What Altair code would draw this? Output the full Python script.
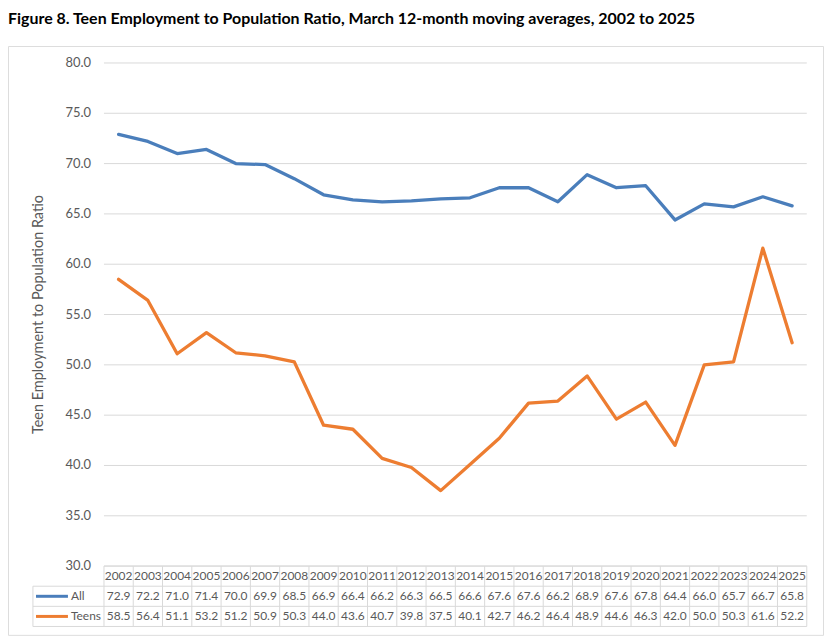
import altair as alt
import pandas as pd

# ---- data ----
years = list(range(2002, 2026))
all_vals = [72.9, 72.2, 71.0, 71.4, 70.0, 69.9, 68.5, 66.9, 66.4, 66.2, 66.3, 66.5,
            66.6, 67.6, 67.6, 66.2, 68.9, 67.6, 67.8, 64.4, 66.0, 65.7, 66.7, 65.8]
teen_vals = [58.5, 56.4, 51.1, 53.2, 51.2, 50.9, 50.3, 44.0, 43.6, 40.7, 39.8, 37.5,
             40.1, 42.7, 46.2, 46.4, 48.9, 44.6, 46.3, 42.0, 50.0, 50.3, 61.6, 52.2]
series_names = ["All", "Teens"]
series_colors = ["#4A7EBB", "#ED7D31"]
y_ticks = [30, 35, 40, 45, 50, 55, 60, 65, 70, 75, 80]
title_text = "Figure 8. Teen Employment to Population Ratio, March 12-month moving averages, 2002 to 2025"
y_title = "Teen Employment to Population Ratio"

FONT = "Lato"
GRAY_TXT = "#595959"
GRID = "#d9d9d9"

# ---- scales (the data table lives below the value axis, in the same frame) ----
xs = alt.Scale(domain=[1998.223, 2026.055], nice=False, zero=False)
ys = alt.Scale(domain=[23.168, 81.683], nice=False, zero=False)

def X(f="x"):
    return alt.X(f"{f}:Q", scale=xs, axis=None)

def Y(f="y"):
    return alt.Y(f"{f}:Q", scale=ys, axis=None)

x_lo = years[0] - 0.5
x_hi = years[-1] + 0.5
legend_left = 1999.074
row_top = y_ticks[0]          # table hangs from the 30.0 baseline
row_h = 2.0
row_edges = [row_top - row_h * i for i in range(4)]   # 30, 28, 26, 24

# gridlines
grid_df = pd.DataFrame({"x": x_lo, "x2": x_hi, "y": y_ticks})
grid = alt.Chart(grid_df).mark_rule(color=GRID, strokeWidth=1).encode(
    x=X(), x2="x2:Q", y=Y())

# y tick labels
ylab_df = pd.DataFrame({"x": x_lo, "y": y_ticks, "t": [f"{v:.1f}" for v in y_ticks]})
ylabels = alt.Chart(ylab_df).mark_text(
    align="right", baseline="middle", dx=-13, font=FONT, fontSize=13, color=GRAY_TXT
).encode(x=X(), y=Y(), text="t:N")

# y title
ytitle_df = pd.DataFrame({"x": [1999.27], "y": [(y_ticks[0] + y_ticks[-1]) / 2], "t": [y_title]})
ytitle = alt.Chart(ytitle_df).mark_text(
    angle=270, align="center", baseline="middle", font=FONT, fontSize=14.5, color=GRAY_TXT
).encode(x=X(), y=Y(), text="t:N")

# lines
line_df = pd.DataFrame({
    "x": years * 2,
    "y": all_vals + teen_vals,
    "s": ["All"] * len(years) + ["Teens"] * len(years),
})
color_scale = alt.Scale(domain=series_names, range=series_colors)
lines = alt.Chart(line_df).mark_line(strokeWidth=3.3, strokeJoin="round", strokeCap="round").encode(
    x=X(), y=Y(), color=alt.Color("s:N", scale=color_scale, legend=None), detail="s:N")

# table borders
h_rows = [{"x": x_lo, "x2": x_hi, "y": row_edges[0]}] + \
         [{"x": legend_left, "x2": x_hi, "y": e} for e in row_edges[1:]]
h_df = pd.DataFrame(h_rows)
hrules = alt.Chart(h_df).mark_rule(color=GRID, strokeWidth=1).encode(
    x=X(), x2="x2:Q", y=Y())

v_rows = [{"x": yr - 0.5, "y": row_edges[0], "y2": row_edges[-1]} for yr in years] + \
         [{"x": x_hi, "y": row_edges[0], "y2": row_edges[-1]},
          {"x": legend_left, "y": row_edges[1], "y2": row_edges[-1]}]
v_df = pd.DataFrame(v_rows)
vrules = alt.Chart(v_df).mark_rule(color=GRID, strokeWidth=1).encode(
    x=X(), y=Y(), y2="y2:Q")

# table text
cells = []
for i, yr in enumerate(years):
    cells.append({"x": yr, "y": row_top - row_h * 0.5, "t": str(yr)})
    cells.append({"x": yr, "y": row_top - row_h * 1.5, "t": f"{all_vals[i]:.1f}"})
    cells.append({"x": yr, "y": row_top - row_h * 2.5, "t": f"{teen_vals[i]:.1f}"})
cell_df = pd.DataFrame(cells)
cell_text = alt.Chart(cell_df).mark_text(
    align="center", baseline="middle", font=FONT, fontSize=12, color=GRAY_TXT
).encode(x=X(), y=Y(), text="t:N")

# legend keys inside the table
key_df = pd.DataFrame({
    "x": [1999.18, 1999.18], "x2": [2000.27, 2000.27],
    "y": [row_top - row_h * 1.5, row_top - row_h * 2.5], "s": series_names,
})
keys = alt.Chart(key_df).mark_rule(strokeWidth=3).encode(
    x=X(), x2="x2:Q", y=Y(), color=alt.Color("s:N", scale=color_scale, legend=None))
key_lab = alt.Chart(key_df).mark_text(
    align="left", baseline="middle", dx=3, font=FONT, fontSize=12, color=GRAY_TXT
).encode(x=X("x2"), y=Y(), text="s:N")

chart = alt.layer(grid, hrules, vrules, ylabels, ytitle, lines, cell_text, keys, key_lab).properties(
    width=818, height=591,
    title=alt.TitleParams(title_text, anchor="start", frame="group", font=FONT, fontSize=16,
                          fontWeight="bold", color="#000000", offset=19),
    autosize=alt.AutoSizeParams(type="none"),
    padding={"left": 0, "top": 37, "right": 2, "bottom": 2},
).configure_view(stroke=GRID, strokeWidth=1).configure(background="white")

chart.save("out.html", embed_options={"renderer": "svg", "actions": False})
